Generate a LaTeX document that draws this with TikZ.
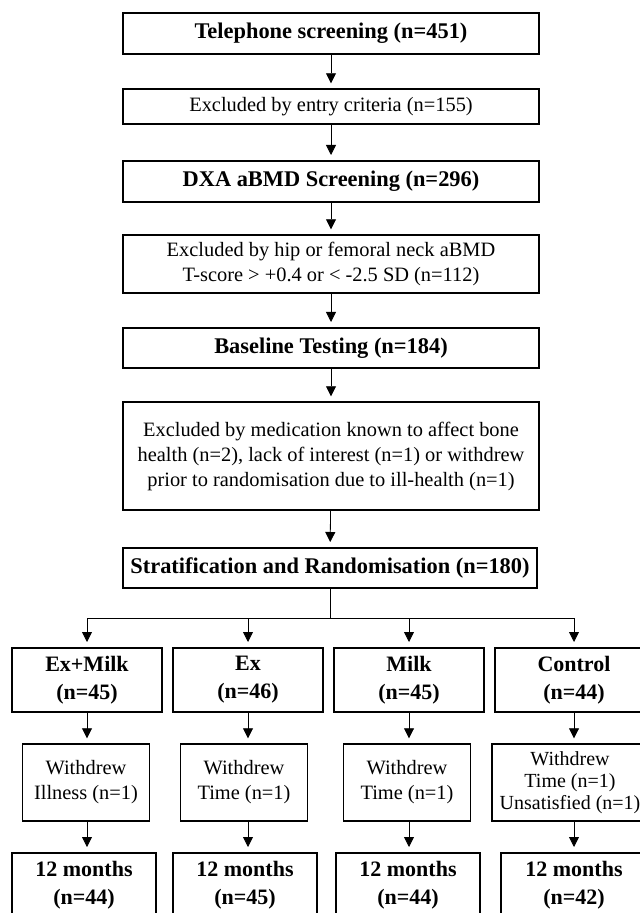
\documentclass[tikz,border=0pt]{standalone}
\usepackage{fontspec}
\setmainfont{Liberation Serif}
\usetikzlibrary{arrows.meta,positioning}
\tikzset{
    -{Triangle[length=5pt,width=5pt]},x=0.5pt,y=-0.5pt,line width=0.6pt,
    shorten >=2.5pt,
    plain/.style ={draw, line width=0.7pt, align=center, inner sep=0pt,
        font=\fontsize{10.2}{12.5}\selectfont},
    head/.style ={plain, line width=1pt, font=\fontsize{11.2}{14}\selectfont\bfseries},
    group/.style ={head, minimum width=75pt, minimum height=32pt,
        font=\fontsize{11}{14}\selectfont\bfseries},
    drop/.style ={plain, minimum width=63.5pt, minimum height=38.5pt},
    final/.style ={group, minimum width=72pt}
}

\begin{document}
\begin{tikzpicture}
      \useasboundingbox (0,0) rectangle (640,913);
      \clip (0,0) rectangle (640,913);

      % screening chain
      \node[head, minimum width=208pt, minimum height=20.5pt] (tel) at (331,33.5) {Telephone screening (n=451)};
      \node[plain, minimum width=208pt, minimum height=17.5pt] (entry) at (331,106.5) {Excluded by entry criteria (n=155)};
      \node[head, minimum width=208pt, minimum height=20.5pt] (dxa) at (331,181.5) {DXA aBMD Screening (n=296)};
      \node[plain, minimum width=208pt, minimum height=29pt] (tscore) at (331,264) {Excluded by hip or femoral neck aBMD\\T-score > +0.4 or < -2.5 SD (n=112)};
      \node[head, minimum width=208pt, minimum height=20pt] (base) at (331,348) {Baseline Testing (n=184)};
      \node[plain, minimum width=208pt, minimum height=54pt] (medic) at (331,456) {Excluded by medication known to affect bone\\health (n=2), lack of interest (n=1) or withdrew\\prior to randomisation due to ill-health (n=1)};
      \node[head, minimum width=207pt, minimum height=20pt] (strat) at (330,568) {Stratification and Randomisation (n=180)};
      \coordinate (split) at (330,618);

      % groups
      \node[group] (exmilk) at (87,680) {Ex+Milk\\(n=45)};
      \node[group] (ex) at (248,680) {Ex\\(n=46)};
      \node[group] (milk) at (409,680) {Milk\\(n=45)};
      \node[group, minimum width=79pt] (control) at (574,680) {Control\\(n=44)};

      \node[drop] (wd1) at (86,782.5) {Withdrew\\Illness (n=1)};
      \node[drop] (wd2) at (244,782.5) {Withdrew\\Time (n=1)};
      \node[drop] (wd3) at (407,782.5) {Withdrew\\Time (n=1)};
      \node[drop, minimum width=78pt, font=\fontsize{10}{11}\selectfont] (wd4) at (570,782.5) {Withdrew\\Time (n=1)\\Unsatisfied (n=1)};

      \node[final] (m1) at (84,885) {12 months\\(n=44)};
      \node[final] (m2) at (245,885) {12 months\\(n=45)};
      \node[final] (m3) at (408,885) {12 months\\(n=44)};
      \node[final, minimum width=73pt] (m4) at (574,885) {12 months\\(n=42)};

      \draw (tel) -- (entry);
      \draw (entry) -- (dxa);
      \draw (dxa) -- (tscore);
      \draw (tscore) -- (base);
      \draw (base) -- (medic);
      \draw (medic) -- (strat);
      \draw[-, shorten >=0pt] (strat) -- (split);
      \foreach \g in {exmilk,ex,milk,control}
        \draw (split) -| (\g.north);
      \foreach \g/\w/\m in {exmilk/wd1/m1,ex/wd2/m2,milk/wd3/m3,control/wd4/m4}{
        \draw (\g.south) -- (\g.south |- \w.north);
        \draw (\g.south |- \w.south) -- (\g.south |- \m.north);
      }
\end{tikzpicture}
\end{document}
